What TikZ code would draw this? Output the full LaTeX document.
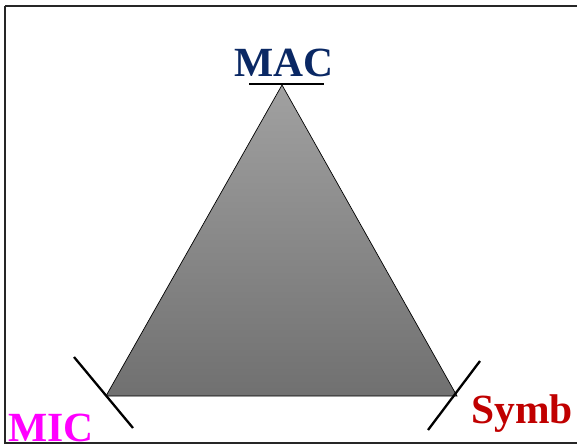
\documentclass[tikz,border=0pt]{standalone}
\usepackage{fontspec}
\setmainfont{Liberation Serif}
\begin{document}
\begin{tikzpicture}[x=1pt,y=-1pt,
  label/.style={font=\fontsize{41.5}{42}\selectfont\bfseries, inner sep=0pt, anchor=base},
  tick/.style={line width=2.3pt, black}]
\definecolor{macblue}{RGB}{10,40,100}
\definecolor{symbred}{RGB}{192,0,0}
\definecolor{micpink}{RGB}{255,0,255}
\useasboundingbox (0,0) rectangle (577,446);
% frame
\draw[line width=1.2pt, black!85] (5,6) -- (5,443) -- (580,443);
\draw[line width=1.2pt, black!85] (5,6) -- (580,6);
% vertices
\coordinate (top) at (282,85);
\coordinate (bl) at (106,396);
\coordinate (br) at (457,396);
% triangle with vertical shading
\shade[top color=black!37, bottom color=black!56, draw=black, line width=0.7pt]
  (top) -- (br) -- (bl) -- cycle;
% marks at the vertices
\coordinate (mA) at (249,84);
\coordinate (mB) at (324,84);
\draw[tick] (mA) -- (mB);
\coordinate (lA) at (74,357);
\coordinate (lB) at (133,428);
\draw[tick] (lA) -- (lB);
\coordinate (rA) at (480,361);
\coordinate (rB) at (428,430);
\draw[tick] (rA) -- (rB);
% labels
\node[label, text=macblue] (mac) at (284,77) {MAC};
\node[label, text=micpink, anchor=base west] (mic) at (8,441) {MIC};
\node[label, text=symbred, anchor=base west] (symb) at (471,423) {Symb};
\end{tikzpicture}
\end{document}
